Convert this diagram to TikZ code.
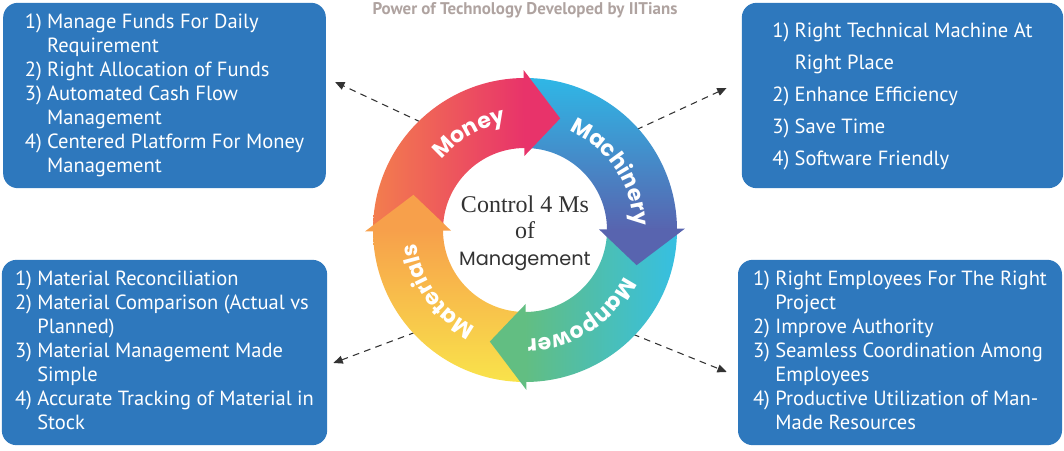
\documentclass[tikz,border=0pt]{standalone}
\usepackage{fontspec}
\setmainfont{PT Sans}
\newfontfamily\ringfont{Poppins}
\newfontfamily\hubserif{Liberation Serif}
\usetikzlibrary{arrows.meta, decorations.text, positioning}

\definecolor{boxblue}{HTML}{2E78BD}
\definecolor{moneyL}{HTML}{F37D4E}
\definecolor{moneyR}{HTML}{E8336A}
\definecolor{machT}{HTML}{2FB7E6}
\definecolor{machB}{HTML}{5864AF}
\definecolor{manR}{HTML}{36BFE2}
\definecolor{manL}{HTML}{62BE82}
\definecolor{matT}{HTML}{F7A04B}
\definecolor{matB}{HTML}{F9E34B}
\definecolor{titlegray}{HTML}{AFA3A0}
\definecolor{hubtext}{HTML}{333333}

\begin{document}
\begin{tikzpicture}[x=0.75pt, y=0.75pt,
    boxstyle/.style={rectangle, rounded corners=11pt, fill=boxblue, text=white,
        minimum height=139pt, font=\fontsize{15.4}{18}\selectfont},
    arrowstyle/.style={draw=black!80, dash pattern=on 5pt off 4pt, line width=0.8pt,
        -{Triangle[length=7pt,width=6pt]}},
    ringtext/.style={decorate, decoration={text along path, text align=center, text color=white,
        text={|\ringfont\bfseries\fontsize{16.5}{16.5}\selectfont|#1}}}
]
\useasboundingbox (0,0) rectangle (1064,450);

\node (Title) at (525,440) [font=\bfseries\fontsize{12.7}{14}\selectfont, text=titlegray]
  {Power of Technology Developed by IITians};

\node (MoneyBox) [boxstyle, minimum width=242pt] at (164.5,354.5) {%
  \begin{tabular}{@{}l@{\hspace{4pt}}l@{}}
  1) & Manage Funds For Daily\\
     & Requirement\\
  2) & Right Allocation of Funds\\
  3) & Automated Cash Flow\\
     & Management\\
  4) & Centered Platform For Money\\
     & Management
  \end{tabular}};
\node (MachineryBox) [boxstyle, minimum width=241pt, font=\fontsize{15.4}{24}\selectfont] at (902.5,354.5) {%
  \begin{tabular}{@{}l@{\hspace{4pt}}l@{}}
  1) & Right Technical Machine At\\
     & Right Place\\
  2) & Enhance Efficiency\\
  3) & Save Time\\
  4) & Software Friendly
  \end{tabular}};
\node (MaterialsBox) [boxstyle, minimum width=244pt] at (164.5,97.5) {%
  \begin{tabular}{@{}l@{\hspace{4pt}}l@{}}
  1) & Material Reconciliation\\
  2) & Material Comparison (Actual vs\\
     & Planned)\\
  3) & Material Management Made\\
     & Simple\\
  4) & Accurate Tracking of Material in\\
     & Stock
  \end{tabular}};
\node (ManpowerBox) [boxstyle, minimum width=243pt] at (900,97.5) {%
  \begin{tabular}{@{}l@{\hspace{4pt}}l@{}}
  1) & Right Employees For The Right\\
     & Project\\
  2) & Improve Authority\\
  3) & Seamless Coordination Among\\
     & Employees\\
  4) & Productive Utilization of Man-\\
     & Made Resources
  \end{tabular}};

\coordinate (RingCentre) at (525,220);
\coordinate (MoneyOut) at ([shift={(134:150)}]RingCentre);
\coordinate (MachineryOut) at ([shift={(42:150)}]RingCentre);
\coordinate (MaterialsOut) at ([shift={(-137:150)}]RingCentre);
\coordinate (ManpowerOut) at ([shift={(-44:150)}]RingCentre);
\coordinate (MoneyTip) at ([shift={(9,13.5)}]MoneyBox.east);
\coordinate (MachineryTip) at ([shift={(-15,7.5)}]MachineryBox.west);
\coordinate (MaterialsTip) at ([shift={(6,-10.5)}]MaterialsBox.east);
\coordinate (ManpowerTip) at ([shift={(-11,-19.5)}]ManpowerBox.west);

\draw[arrowstyle] (MoneyOut) -- (MoneyTip);
\draw[arrowstyle] (MachineryOut) -- (MachineryTip);
\draw[arrowstyle] (MaterialsOut) -- (MaterialsTip);
\draw[arrowstyle] (ManpowerOut) -- (ManpowerTip);

\begin{scope}[shift={(RingCentre)}]
\shade[left color=moneyL, right color=moneyR] (180:152) arc[start angle=180, end angle=90, radius=152]
  -- (90:82) arc[start angle=90, end angle=180, radius=82] -- cycle;
\shade[top color=machT, bottom color=machB] (90:152) arc[start angle=90, end angle=0, radius=152]
  -- (0:82) arc[start angle=0, end angle=90, radius=82] -- cycle;
\shade[left color=manL, right color=manR] (0:152) arc[start angle=0, end angle=-90, radius=152]
  -- (-90:82) arc[start angle=-90, end angle=0, radius=82] -- cycle;
\shade[top color=matT, bottom color=matB] (-90:152) arc[start angle=-90, end angle=-180, radius=152]
  -- (180:82) arc[start angle=180, end angle=270, radius=82] -- cycle;
\fill[moneyR] (90.5:160) -- (72.5:117) -- (90.5:74) -- cycle;
\fill[machB] (0.5:160) -- (-17.5:117) -- (0.5:74) -- cycle;
\fill[manL] (-89.5:160) -- (-107.5:117) -- (-89.5:74) -- cycle;
\fill[matT] (180.5:160) -- (162.5:117) -- (180.5:74) -- cycle;
\path[ringtext=Money] (165:109) arc[start angle=165, end angle=75, radius=109];
\path[ringtext=Machinery] (79:109) arc[start angle=79, end angle=-11, radius=109];
\path[ringtext=Manpower] (-12:109) arc[start angle=-12, end angle=-102, radius=109];
\path[ringtext=Materials] (-100:109) arc[start angle=-100, end angle=-190, radius=109];
\end{scope}

\node (Hub) at (525,217) [align=center, text=hubtext, font=\fontsize{18}{20}\selectfont]
  {{\hubserif Control 4 Ms}\\{\hubserif of}\\{\ringfont\fontsize{14.5}{20}\selectfont Management}};

\end{tikzpicture}
\end{document}
